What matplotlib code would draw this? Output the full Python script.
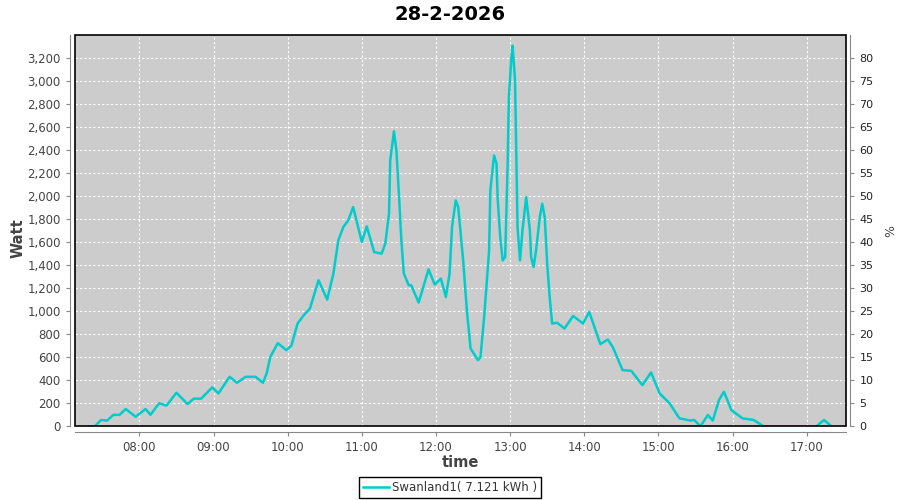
import matplotlib
matplotlib.use('Agg')
from matplotlib import pyplot as plt
from matplotlib.patches import Rectangle
from matplotlib.ticker import FuncFormatter

# Meetwaarden (tijd en vermogen).
times = ['07:19', '07:24', '07:29', '07:34', '07:39', '07:44', '07:49', '07:57',
         '08:05', '08:09', '08:16', '08:22', '08:30', '08:39', '08:44', '08:50',
         '08:59', '09:04', '09:13', '09:19', '09:26', '09:34', '09:40', '09:43',
         '09:46', '09:52', '09:59', '10:03', '10:08', '10:13', '10:18', '10:25',
         '10:32', '10:37', '10:41', '10:45', '10:49', '10:53', '11:00', '11:04',
         '11:10', '11:16', '11:19', '11:22', '11:23', '11:26', '11:28', '11:30',
         '11:32', '11:34', '11:38', '11:40', '11:46', '11:54', '11:59', '12:04',
         '12:08', '12:11', '12:13', '12:16', '12:18', '12:22', '12:25', '12:28',
         '12:34', '12:36', '12:39', '12:43', '12:44', '12:47', '12:49', '12:50',
         '12:52', '12:54', '12:56', '12:58', '12:59', '13:01', '13:02', '13:04',
         '13:05', '13:06', '13:08', '13:10', '13:13', '13:16', '13:17', '13:19',
         '13:21', '13:24', '13:26', '13:28', '13:30', '13:32', '13:34', '13:38',
         '13:44', '13:51', '13:59', '14:04', '14:13', '14:19', '14:23', '14:31',
         '14:38', '14:47', '14:54', '15:01', '15:09', '15:17', '15:26', '15:29',
         '15:34', '15:40', '15:44', '15:49', '15:53', '15:59', '16:08', '16:17',
         '16:25', '17:08', '17:14', '17:20']
watt = [0, 0, 55, 50, 100, 100, 150, 83,
        150, 100, 200, 180, 292, 193, 240, 240,
        338, 286, 430, 378, 430, 430, 378, 460,
        604, 722, 662, 700, 893, 965, 1023, 1269,
        1101, 1327, 1616, 1731, 1789, 1905, 1601, 1737,
        1514, 1500, 1587, 1847, 2310, 2564, 2396, 2021,
        1616, 1327, 1225, 1225, 1075, 1364, 1231, 1283,
        1124, 1327, 1731, 1963, 1905, 1442, 1009, 676,
        575, 600, 950, 1529, 2049, 2353, 2283, 1963,
        1644, 1442, 1471, 2281, 2858, 3205, 3307, 3003,
        2368, 1731, 1442, 1703, 1991, 1703, 1471, 1384,
        1529, 1818, 1934, 1818, 1413, 1124, 893, 900,
        850, 959, 893, 994, 714, 754, 690, 488,
        482, 358, 468, 286, 200, 69, 50, 55,
        0, 98, 50, 228, 300, 141, 69, 55,
        0, 0, 55, 0]

title = '28-2-2026'
series_name = 'Swanland1( 7.121 kWh )'
hour_ticks = list(range(8, 18))
watt_ticks = list(range(0, 3201, 200))
pct_ticks = list(range(0, 81, 5))

# Tijden omzetten naar uren.
hours = [int(t[:2]) + int(t[3:]) / 60 for t in times]

fig = plt.figure(figsize=(9, 5), dpi=100)
ax = fig.add_axes([0.0837, 0.1474, 0.8566, 0.7826])
ax.set_facecolor('#cccccc')

line, = ax.plot(hours, watt, color='#00cccc', linewidth=1.8, label=series_name)

ax.set_xlim(7 + 8.2 / 60, 17 + 32 / 60)
ax.set_ylim(0, 3400)
ax.set_xticks(hour_ticks)
ax.xaxis.set_major_formatter(FuncFormatter(lambda v, p: '%02d:00' % round(v)))
ax.set_yticks(watt_ticks)
ax.yaxis.set_major_formatter(FuncFormatter(lambda v, p: '{:,.0f}'.format(v)))
ax.grid(True, color='white', linestyle=(0, (2, 2)), linewidth=0.8)

# Assen iets naar buiten, grijs; kader rond de plot zwart.
for side in ['left', 'bottom']:
    ax.spines[side].set_position(('outward', 4))
    ax.spines[side].set_color('#888888')
ax.spines['top'].set_visible(False)
ax.spines['right'].set_visible(False)
ax.add_patch(Rectangle((0, 0), 1, 1, transform=ax.transAxes, fill=False,
                       edgecolor='black', linewidth=1.2, clip_on=False, zorder=5))

ax.tick_params(colors='#888888', labelcolor='#444444', labelsize=8.5, length=3)
ax.set_xlabel('time', fontsize=10.5, fontweight='bold', color='#444444', labelpad=1)
ax.set_ylabel('Watt', fontsize=10.5, fontweight='bold', color='#444444')
ax.yaxis.set_label_coords(-0.064, 0.48)

# Rechter as in procenten.
ax2 = ax.twinx()
ax2.set_ylim(0, 85)
ax2.set_yticks(pct_ticks)
for side in ['left', 'bottom', 'top']:
    ax2.spines[side].set_visible(False)
ax2.spines['right'].set_position(('outward', 3))
ax2.spines['right'].set_color('#888888')
ax2.tick_params(colors='#888888', labelcolor='#222222', labelsize=8, length=3)
ax2.set_ylabel('%', fontsize=9, color='#444444', labelpad=8)

fig.suptitle(title, x=0.5, y=0.99, fontsize=14, fontweight='bold')

leg = fig.legend(handles=[line], loc='lower center', bbox_to_anchor=(0.5, -0.008),
                 fancybox=False, edgecolor='black', framealpha=1, fontsize=8.5,
                 handlelength=2.2, handletextpad=0.3, borderpad=0.35)
for t in leg.get_texts():
    t.set_color('#333333')
leg.get_frame().set_linewidth(1.0)

plt.savefig('out.png', dpi=100)
